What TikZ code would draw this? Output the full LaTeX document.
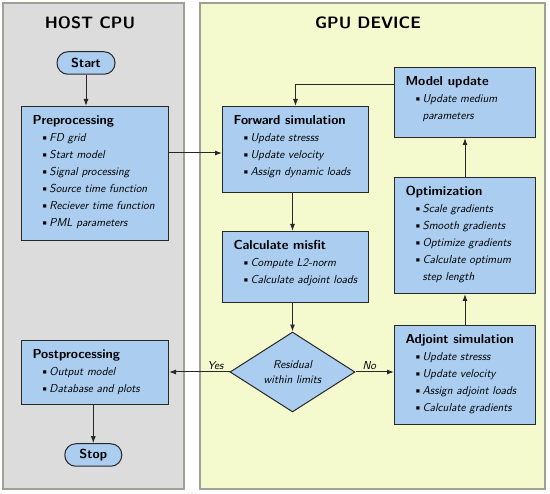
\documentclass[tikz,border=0pt]{standalone}
\usetikzlibrary{shapes.geometric,arrows.meta}
\definecolor{hostfill}{RGB}{220,220,220}
\definecolor{gpufill}{RGB}{244,249,206}
\definecolor{panelline}{RGB}{160,160,150}
\definecolor{boxfill}{RGB}{170,205,240}
\definecolor{boxline}{RGB}{40,40,40}
\newcommand\bodyfont{\fontsize{11.5}{17}\selectfont\sffamily}
\newcommand\headfont{\fontsize{13}{17}\selectfont\sffamily\bfseries}
\newcommand\blockhead[1]{\rule{0pt}{18pt}\hspace*{11pt}{\headfont #1}\par}
\newcommand\blockitem[1]{\hspace*{19pt}\makebox[9pt][l]{\textbullet}\textit{#1}\par}
\newcommand\blockcont[1]{\hspace*{28pt}\textit{#1}\par}
\newcommand\blockbody[3]{\begin{minipage}[c][#2][t]{#1}\bodyfont #3\end{minipage}}
\tikzset{
  panel/.style={draw=panelline, line width=2.2pt},
  paneltitle/.style={font=\fontsize{16.5}{20}\selectfont\sffamily\bfseries, inner sep=0pt},
  block/.style={draw=boxline, fill=boxfill, line width=1pt, inner sep=0pt, anchor=north west},
  terminal/.style={draw=boxline, fill=boxfill, line width=1pt, rounded corners=11pt,
    minimum height=22.5pt, inner sep=0pt, font=\headfont},
  decision/.style={diamond, draw=boxline, fill=boxfill, line width=1pt, inner sep=0pt,
    minimum width=125pt, minimum height=78pt, align=center,
    font=\fontsize{11.5}{14.3}\selectfont\sffamily\itshape},
  conn/.style={draw=boxline, line width=1pt, -{Latex[length=7pt,width=5pt]}},
  edgelabel/.style={font=\fontsize{11.5}{14}\selectfont\sffamily\itshape, inner sep=1.5pt, anchor=south},
}
\begin{document}
\begin{tikzpicture}[x=1pt,y=-1pt]
\useasboundingbox (0,0) rectangle (550,494);
\fill[white] (0,0) rectangle (550,494);
% panels
\draw[panel, fill=hostfill] (3,3) rectangle (184,489);
\draw[panel, fill=gpufill] (200,3) rectangle (545,489);
\node[paneltitle] (hosttitle) at (90,23) {HOST CPU};
\node[paneltitle] (gputitle) at (368,23) {GPU DEVICE};
% terminals
\node[terminal, minimum width=58pt] (start) at (86,63) {Start};
\node[terminal, minimum width=57pt] (stop) at (93.3,455) {Stop};
% blocks
\node[block] (pre) at (21,106) {\blockbody{147pt}{134pt}{%
  \blockhead{Preprocessing}%
  \blockitem{FD grid}%
  \blockitem{Start model}%
  \blockitem{Signal processing}%
  \blockitem{Source time function}%
  \blockitem{Reciever time function}%
  \blockitem{PML parameters}}};
\node[block] (fwd) at (222,106) {\blockbody{146pt}{86pt}{%
  \blockhead{Forward simulation}%
  \blockitem{Update stresss}%
  \blockitem{Update velocity}%
  \blockitem{Assign dynamic loads}}};
\node[block] (mis) at (222,231) {\blockbody{146pt}{71pt}{%
  \blockhead{Calculate misfit}%
  \blockitem{Compute L2-norm}%
  \blockitem{Calculate adjoint loads}}};
\node[block] (mod) at (394,67) {\blockbody{141pt}{70pt}{%
  \blockhead{Model update}%
  \blockitem{Update medium}%
  \blockcont{parameters}}};
\node[block] (opt) at (394,177) {\blockbody{141pt}{116pt}{%
  \blockhead{Optimization}%
  \blockitem{Scale gradients}%
  \blockitem{Smooth gradients}%
  \blockitem{Optimize gradients}%
  \blockitem{Calculate optimum}%
  \blockcont{step length}}};
\node[block] (adj) at (394,325) {\blockbody{141pt}{99pt}{%
  \blockhead{Adjoint simulation}%
  \blockitem{Update stresss}%
  \blockitem{Update velocity}%
  \blockitem{Assign adjoint loads}%
  \blockitem{Calculate gradients}}};
\node[block] (post) at (21,340) {\blockbody{147pt}{64pt}{%
  \blockhead{Postprocessing}%
  \blockitem{Output model}%
  \blockitem{Database and plots}}};
% decision
\node[decision] (dia) at (292.5,372) {Residual\\within limits};
% connectors
\coordinate (fwdin) at (222,153);
\coordinate (modout) at (394,85);
\draw[conn] (start.south) -- (start.south |- pre.north);
\draw[conn] (pre.east |- fwdin) -- (fwdin);
\draw[conn] (modout) -| (fwd.north);
\draw[conn] (dia.north |- fwd.south) -- (dia.north |- mis.north);
\draw[conn] (dia.north |- mis.south) -- (dia.north);
\draw[conn] (dia.west) -- node[edgelabel, pos=0.23] {Yes} (dia.west -| post.east);
\draw[conn] (dia.east) -- node[edgelabel, pos=0.36] {No} (dia.east -| adj.west);
\draw[conn] (adj.north) -- (opt.south);
\draw[conn] (opt.north) -- (mod.south);
\draw[conn] (post.south -| stop.north) -- (stop.north);
\end{tikzpicture}
\end{document}
